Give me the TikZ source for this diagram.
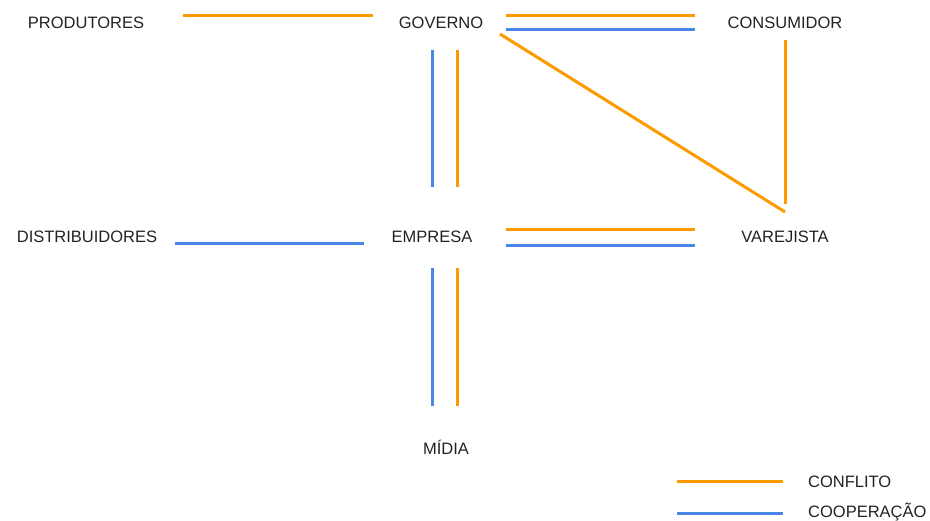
\documentclass[tikz,border=0pt]{standalone}
\usepackage{fontspec}
\setmainfont{Liberation Sans}
\definecolor{conflito}{HTML}{FF9900}
\definecolor{cooperacao}{HTML}{4A86E8}
\definecolor{rotulo}{HTML}{222222}
\begin{document}
\begin{tikzpicture}[x=1pt,y=-1pt,
  ator/.style={inner sep=0pt,anchor=base,text=rotulo,font=\fontsize{16.5}{18}\selectfont},
  legenda/.style={inner sep=0pt,anchor=base west,text=rotulo,font=\fontsize{16.5}{18}\selectfont},
  lconf/.style={draw=conflito,line width=3pt},
  lcoop/.style={draw=cooperacao,line width=3pt}]
\useasboundingbox (0,0) rectangle (930,521);

% actors
\node[ator] (produtores)    at (86,29)  {PRODUTORES};
\node[ator] (governo)       at (441,29) {GOVERNO};
\node[ator] (consumidor)    at (785,29) {CONSUMIDOR};
\node[ator] (distribuidores) at (87,243) {DISTRIBUIDORES};
\node[ator] (empresa)       at (432,243) {EMPRESA};
\node[ator] (varejista)     at (785,243) {VAREJISTA};
\node[ator] (midia)         at (446,455) {MÍDIA};

% connector end points
\coordinate (pg1) at (183,16);  \coordinate (pg2) at (373,16);
\coordinate (gc1) at (506,16);  \coordinate (gc2) at (695,16);
\coordinate (gc3) at (506,30);  \coordinate (gc4) at (695,30);
\coordinate (ge1) at (432,50);  \coordinate (ge2) at (432,187);
\coordinate (ge3) at (457,50);  \coordinate (ge4) at (457,187);
\coordinate (gv1) at (500,34);  \coordinate (gv2) at (785,212);
\coordinate (cv1) at (785,40);  \coordinate (cv2) at (785,204);
\coordinate (de1) at (175,244); \coordinate (de2) at (364,244);
\coordinate (ev1) at (506,230); \coordinate (ev2) at (695,230);
\coordinate (ev3) at (506,246); \coordinate (ev4) at (695,246);
\coordinate (em1) at (432,268); \coordinate (em2) at (432,406);
\coordinate (em3) at (457,268); \coordinate (em4) at (457,406);

% relations
\draw[lconf] (pg1) -- (pg2);
\draw[lconf] (gc1) -- (gc2);
\draw[lcoop] (gc3) -- (gc4);
\draw[lcoop] (ge1) -- (ge2);
\draw[lconf] (ge3) -- (ge4);
\draw[lconf] (gv1) -- (gv2);
\draw[lconf] (cv1) -- (cv2);
\draw[lcoop] (de1) -- (de2);
\draw[lconf] (ev1) -- (ev2);
\draw[lcoop] (ev3) -- (ev4);
\draw[lcoop] (em1) -- (em2);
\draw[lconf] (em3) -- (em4);

% legend
\coordinate (lc1) at (677,482); \coordinate (lc2) at (783,482);
\coordinate (lk1) at (677,513); \coordinate (lk2) at (783,513);
\draw[lconf] (lc1) -- (lc2);
\draw[lcoop] (lk1) -- (lk2);
\node[legenda] (tconf) at (808,487) {CONFLITO};
\node[legenda] (tcoop) at (808,518) {COOPERAÇÃO};
\end{tikzpicture}
\end{document}
